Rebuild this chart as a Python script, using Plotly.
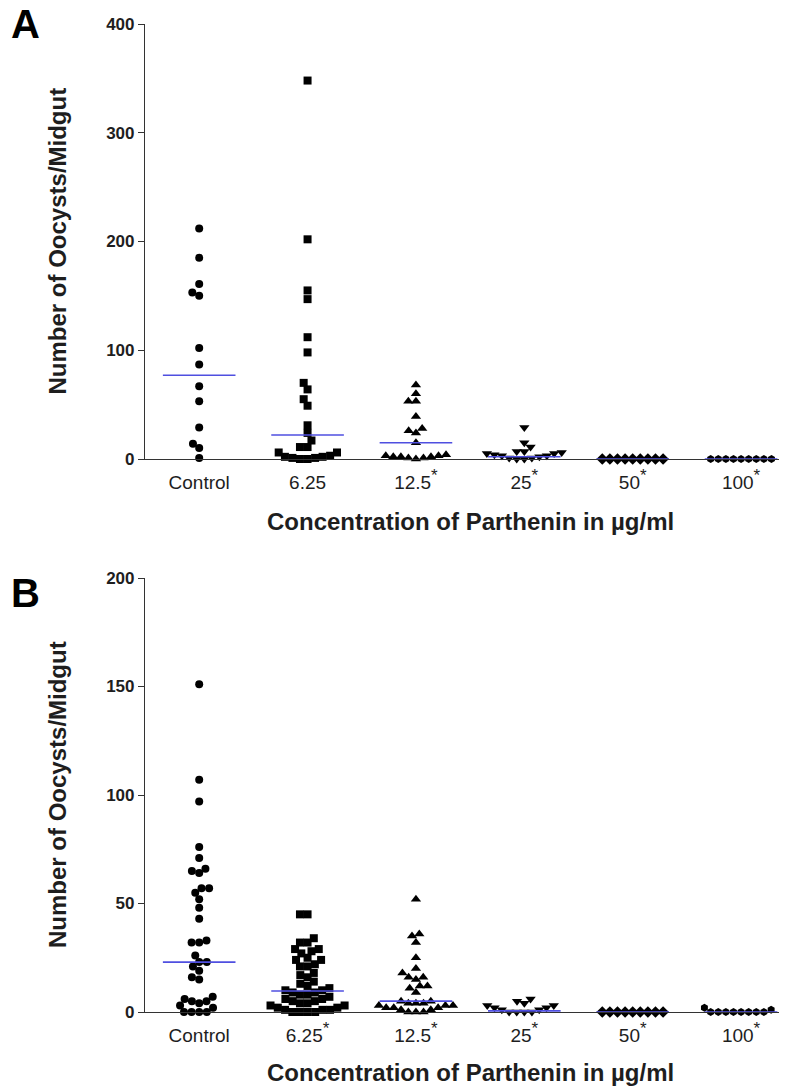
import math
import plotly.graph_objects as go

# ---------------- data ----------------
groups = ["Control", "6.25", "12.5", "25", "50", "100"]
STAR = "<sup><span style='font-size:17px'>*</span></sup>"
tick_labels_A = ["Control", "6.25", "12.5" + STAR, "25" + STAR, "50" + STAR, "100" + STAR]
tick_labels_B = ["Control", "6.25" + STAR, "12.5" + STAR, "25" + STAR, "50" + STAR, "100" + STAR]

A_control = [212, 185, 161, 153, 150, 102, 87, 67, 53, 29, 14, 10, 1]
A_625 = [348, 202, 155, 147, 112, 98, 70, 64, 55, 49, 31, 24, 17, 11, 11, 6, 6, 2, 1, 0, 3, 0, 2, 1]
A_125 = [68, 60, 53, 53, 39, 28, 24, 26, 15, 3, 1, 2, 0, 4, 2, 1, 3, 2]
A_25 = [29, 15, 11, 7, 7, 6, 5, 5, 4, 3, 3, 2, 1, 1, 0, 0]
A_50 = [0, 0, 0, 0, 0, 0, 0, 0, 0]
A_100 = [0, 0, 0, 0, 0, 0, 0, 0, 0]
A_center = [77, 22, 15, 2, 0, 0]

B_control = [151, 107, 97, 76, 71, 66, 65, 64, 57, 57, 55, 52, 48, 43, 33, 32, 32, 26,
             23, 23, 21, 19, 16, 15, 7, 6, 5, 5, 4, 3, 2, 0, 0, 0, 0]
B_625 = [45, 45, 34, 32, 32, 29, 29, 28, 27, 25, 24, 24, 22, 21, 21, 18, 17, 16, 14, 13,
         12, 11, 10, 10, 9, 9, 8, 8, 7, 6, 6, 5, 5, 4, 4, 3, 3, 2, 2, 1, 1, 1, 0, 0, 0, 0]
B_125 = [52, 36, 35, 32, 25, 20, 18, 16, 16, 15, 12, 12, 11, 9, 5, 5, 4, 4, 4, 3, 3, 3,
         2, 2, 2, 1, 1, 0, 0, 0]
B_25 = [6, 5, 4, 3, 3, 2, 2, 1, 1, 0, 0, 0, 0]
B_50 = [0, 0, 0, 0, 0, 0, 0, 0, 0]
B_100 = [2, 1, 0, 0, 0, 0, 0, 0, 0, 0]
B_center = [23, 9.7, 5, 0.5, 0, 0]

panelA = [A_control, A_625, A_125, A_25, A_50, A_100]
panelB = [B_control, B_625, B_125, B_25, B_50, B_100]

symbols = ["circle", "square", "triangle-up", "triangle-down", "diamond", "hexagon"]
sizes = [8, 8, 9, 9, 9, 8]

# ---------------- layout geometry ----------------
W, H = 786, 1087
L, R, T, Bm = 145, 7, 24, 75
plot_h = H - T - Bm
px_per_cat = (W - L - R) / 5.85
domA = [(1012 - 459) / plot_h, 1.0]
domB = [0.0, (1012 - 578) / plot_h]
pxA = (459 - 24) / 400.0
pxB = (1012 - 578) / 200.0


def swarm(values, ypx, diam=7.6):
    placed = []
    offs = [0.0] * len(values)
    order = sorted(range(len(values)), key=lambda i: values[i])
    for i in order:
        y = values[i] * ypx
        iv = []
        for (px, py) in placed:
            dy = abs(py - y)
            if dy < diam:
                h = math.sqrt(diam ** 2 - dy ** 2)
                iv.append((px - h, px + h))
        cands = [0.0] + [a for a, b in iv] + [b for a, b in iv]
        cands.sort(key=abs)
        chosen = 0.0
        for c in cands:
            if all(not (a + 1e-6 < c < b - 1e-6) for a, b in iv):
                chosen = c
                break
        placed.append((chosen, y))
        offs[i] = chosen / px_per_cat
    return offs


fig = go.Figure()

for panel, ypx, xa, ya, centers in [(panelA, pxA, "x", "y", A_center), (panelB, pxB, "x2", "y2", B_center)]:
    for gi, vals in enumerate(panel):
        offs = swarm(vals, ypx)
        fig.add_trace(go.Scatter(
            x=[gi + o for o in offs], y=vals, mode="markers",
            marker=dict(symbol=symbols[gi], size=sizes[gi], color="black", line=dict(width=0)),
            xaxis=xa, yaxis=ya, cliponaxis=False, showlegend=False, hoverinfo="y"))
    for gi, c in enumerate(centers):
        fig.add_trace(go.Scatter(
            x=[gi - 0.335, gi + 0.335], y=[c, c], mode="lines",
            line=dict(color="#4f4fe0", width=1.6),
            xaxis=xa, yaxis=ya, cliponaxis=False, showlegend=False, hoverinfo="skip"))

font_family = "Liberation Sans, Arial, sans-serif"
txt = "#1e1e1e"

xcommon = dict(range=[-0.5, 5.35], tickmode="array", tickvals=list(range(6)),
               showline=True, linecolor="#333333", linewidth=1.2, showgrid=False, zeroline=False,
               ticks="outside", ticklen=6, tickcolor="rgba(0,0,0,0)",
               tickfont=dict(family=font_family, size=19, color=txt))
ycommon = dict(showline=True, linecolor="#333333", linewidth=1.2, showgrid=False, zeroline=False,
               ticks="outside", ticklen=6, tickcolor="#333333", tickwidth=1.2,
               tickfont=dict(family=font_family, size=17, color=txt, weight="bold"))

fig.update_layout(
    width=W, height=H, margin=dict(l=L, r=R, t=T, b=Bm),
    paper_bgcolor="white", plot_bgcolor="white",
    xaxis=dict(xcommon, ticktext=tick_labels_A, anchor="y"),
    yaxis=dict(ycommon, range=[0, 400], tickvals=[0, 100, 200, 300, 400], domain=domA, anchor="x"),
    xaxis2=dict(xcommon, ticktext=tick_labels_B, anchor="y2"),
    yaxis2=dict(ycommon, range=[0, 200], tickvals=[0, 50, 100, 150, 200], domain=domB, anchor="x2"),
)

ann = []
ytitle = "Number of Oocysts/Midgut"
xtitle = "Concentration of Parthenin in µg/ml"
for dom, letter, ly, xty in [(domA, "A", 24, 521), (domB, "B", 593, 1072)]:
    ann.append(dict(text=ytitle, xref="paper", yref="paper", x=0, xshift=57 - L,
                    y=(dom[0] + dom[1]) / 2, textangle=-90, showarrow=False,
                    xanchor="center", yanchor="middle",
                    font=dict(family=font_family, size=24, color=txt, weight="bold")))
    ann.append(dict(text=xtitle, xref="paper", yref="paper", x=(470 - L) / (W - L - R),
                    y=1 - (xty - T) / plot_h, showarrow=False, xanchor="center", yanchor="middle",
                    font=dict(family=font_family, size=24, color=txt, weight="bold")))
    ann.append(dict(text=letter, xref="paper", yref="paper", x=0, xshift=25 - L,
                    y=1 - (ly - T) / plot_h, showarrow=False, xanchor="center", yanchor="middle",
                    font=dict(family=font_family, size=40, color="black", weight="bold")))
fig.update_layout(annotations=ann)

fig.write_html("out.html")
